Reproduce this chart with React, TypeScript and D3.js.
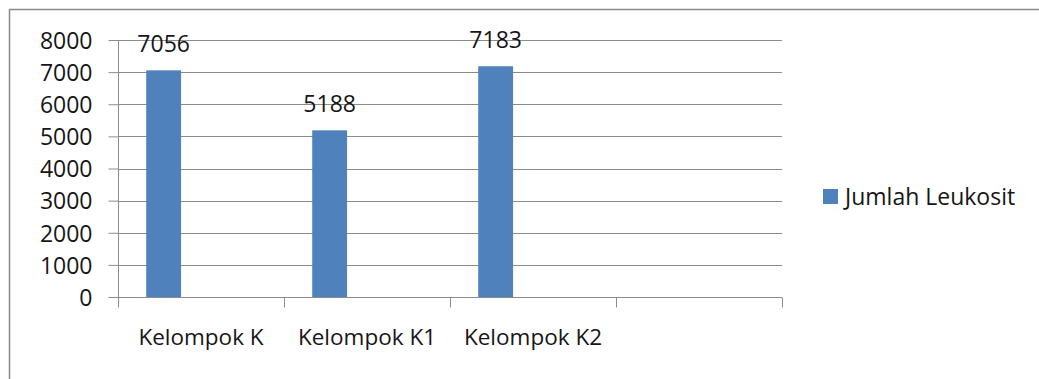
import React, { useRef, useEffect } from "react";
import * as d3 from "d3";

// values
const categories = ["Kelompok K", "Kelompok K1", "Kelompok K2", ""];
const leukosit = [7056, 5188, 7183];
const yTicks = [0, 1000, 2000, 3000, 4000, 5000, 6000, 7000, 8000];
const seriesName = "Jumlah Leukosit";

const W = 1039;
const H = 379;
const FONT = "'Open Sans', sans-serif";
const BAR = "#4f81bd";
const GRID = "#8c8c8c";
const INK = "#161616";

const App = () => {
  const svgRef = useRef<SVGSVGElement>(null);

  useEffect(() => {
    const svg = d3.select(svgRef.current);
    svg.selectAll("*").remove();

    const x = d3
      .scaleBand<number>()
      .domain(d3.range(categories.length))
      .range([118, 782])
      .paddingInner(0);

    const y = d3.scaleLinear().domain([0, 8000]).range([297, 40]);

    // outer frame
    svg
      .append("rect")
      .attr("x", 9.5)
      .attr("y", 9.5)
      .attr("width", W + 20)
      .attr("height", H + 20)
      .attr("fill", "white")
      .attr("stroke", "#8a8a8a")
      .attr("stroke-width", 1.5);

    // gridlines
    svg
      .selectAll(".grid")
      .data(yTicks.filter((d) => d > 0))
      .join("line")
      .attr("class", "grid")
      .attr("x1", 118)
      .attr("x2", 782)
      .attr("y1", (d) => Math.round(y(d)) + 0.5)
      .attr("y2", (d) => Math.round(y(d)) + 0.5)
      .attr("stroke", GRID)
      .attr("stroke-width", 1);

    // y axis
    const yAxis = d3
      .axisLeft(y)
      .tickValues(yTicks)
      .tickSize(10)
      .tickPadding(16)
      .tickFormat((d) => String(d));
    const gy = svg.append("g").attr("transform", "translate(118.5,0)").call(yAxis);
    gy.select(".domain").attr("stroke", GRID).attr("d", `M0,${y(8000)}V${y(0)}`);
    gy.selectAll(".tick line").attr("stroke", GRID);
    gy.selectAll("text")
      .attr("fill", INK)
      .style("font-family", FONT)
      .style("font-size", "23px")
      .attr("dy", "0.36em");

    // x axis
    const xAxis = d3
      .axisBottom(
        d3
          .scaleLinear()
          .domain([0, categories.length])
          .range([118, 782])
      )
      .tickValues(d3.range(categories.length + 1))
      .tickSize(10)
      .tickFormat(() => "");
    const gx = svg
      .append("g")
      .attr("transform", `translate(0,${Math.round(y(0)) + 0.5})`)
      .call(xAxis);
    gx.select(".domain").attr("stroke", GRID).attr("d", "M118,0H782");
    gx.selectAll(".tick line").attr("stroke", GRID);

    // category labels
    svg
      .selectAll(".cat")
      .data(categories)
      .join("text")
      .attr("class", "cat")
      .attr("x", (_, i) => (x(i) as number) + x.bandwidth() / 2)
      .attr("y", 345)
      .attr("text-anchor", "middle")
      .attr("fill", INK)
      .style("font-family", FONT)
      .style("font-size", "22.5px")
      .text((d) => d);

    // bars
    const bw = x.bandwidth() * 0.21;
    const off = x.bandwidth() * 0.17;
    svg
      .selectAll(".bar")
      .data(leukosit)
      .join("rect")
      .attr("class", "bar")
      .attr("x", (_, i) => (x(i) as number) + off)
      .attr("width", bw)
      .attr("y", (d) => y(d))
      .attr("height", (d) => y(0) - y(d))
      .attr("fill", BAR);

    // data labels
    svg
      .selectAll(".val")
      .data(leukosit)
      .join("text")
      .attr("class", "val")
      .attr("x", (_, i) => (x(i) as number) + off + bw / 2)
      .attr("y", (d) => y(d) - 18)
      .attr("text-anchor", "middle")
      .attr("fill", INK)
      .style("font-family", FONT)
      .style("font-size", "23px")
      .text((d) => String(d));

    // legend
    const lg = svg.append("g").attr("transform", "translate(823,189)");
    lg.append("rect").attr("width", 15).attr("height", 15).attr("fill", BAR);
    lg.append("text")
      .attr("x", 22)
      .attr("y", 8)
      .attr("dy", "0.36em")
      .attr("fill", INK)
      .style("font-family", FONT)
      .style("font-size", "23px")
      .text(seriesName);
  }, []);

  return (
    <svg
      ref={svgRef}
      width={W}
      height={H}
      style={{ position: "absolute", left: 0, top: 0, background: "white" }}
    />
  );
};

export default App;
